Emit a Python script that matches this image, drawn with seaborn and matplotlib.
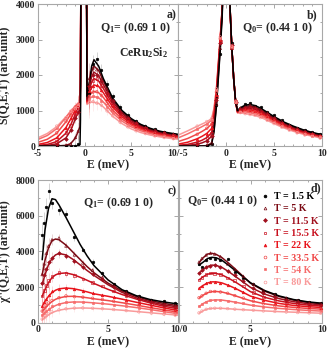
import matplotlib
matplotlib.use("Agg")
import matplotlib.pyplot as plt
from matplotlib.lines import Line2D
from matplotlib.ticker import MultipleLocator
import pandas as pd
import seaborn as sns

temps = ['T = 1.5 K', 'T = 5 K', 'T = 11.5 K', 'T = 15.5 K',
         'T = 22 K', 'T = 33.5 K', 'T = 54 K', 'T = 80 K']

# ---- panel a : S(Q1,E,T) ----
a_fit_E = [-5, -4, -3, -2, -1.5, -1, -0.75, -0.5, -0.45, -0.4, 0.2, 0.25, 0.5, 0.75,
           1.0, 1.5, 2.0, 3.0, 4.0, 5.0, 6.0, 7.0, 8.0, 9.0, 10.0]
a_fit = [
    [0, 0, 0, 0, 0, 0, 7, 37, 740, 5000, 5000, 1400, 1800, 2250, 2430, 2250, 1900, 1350, 1000, 770, 610, 500, 420, 370, 330],
    [0, 0, 1, 18, 66, 221, 378, 548, 1250, 5000, 5000, 1350, 1750, 2100, 2250, 2130, 1830, 1300, 960, 740, 590, 480, 405, 355, 315],
    [5, 16, 60, 230, 436, 759, 938, 997, 1700, 5000, 5000, 1300, 1650, 1950, 2080, 1980, 1730, 1240, 920, 710, 565, 460, 390, 340, 300],
    [16, 44, 124, 363, 595, 899, 1055, 1087, 1790, 5000, 5000, 1280, 1580, 1800, 1900, 1830, 1620, 1170, 870, 670, 535, 440, 370, 320, 285],
    [45, 99, 227, 522, 761, 1015, 1131, 1152, 1850, 5000, 5000, 1250, 1500, 1650, 1720, 1680, 1500, 1100, 820, 630, 505, 415, 350, 300, 265],
    [104, 190, 358, 685, 893, 1089, 1172, 1194, 1900, 5000, 5000, 1230, 1420, 1500, 1540, 1500, 1370, 1010, 760, 590, 470, 385, 325, 280, 245],
    [184, 296, 488, 807, 986, 1122, 1174, 1194, 1900, 5000, 5000, 1200, 1330, 1380, 1390, 1360, 1240, 930, 700, 540, 430, 350, 295, 255, 220],
    [232, 353, 543, 823, 965, 1064, 1112, 1135, 1840, 5000, 5000, 1170, 1220, 1240, 1230, 1200, 1100, 840, 630, 480, 380, 310, 260, 220, 190],
]
a_pts_E = [-3.0, -2.0, -1.5, -1.0, -0.7, 0.5, 0.9, 1.3, 1.8, 2.4, 3.0, 3.8, 4.6, 5.5, 6.5, 7.5, 8.5, 9.5]
a_pts = [
    [0, 0, 0, 5, 60, 1500, 2300, 2450, 2150, 1750, 1400, 1100, 880, 700, 560, 470, 400, 350],
    [0, 25, 60, 240, 420, 1900, 2200, 2150, 1900, 1600, 1280, 1000, 820, 650, 530, 440, 380, 330],
    [70, 210, 450, 780, 950, 1700, 2000, 2000, 1820, 1500, 1260, 950, 780, 640, 510, 420, 360, 320],
    [130, 380, 580, 920, 1080, 1650, 1850, 1900, 1700, 1450, 1150, 900, 740, 600, 490, 400, 345, 300],
    [240, 500, 780, 1000, 1150, 1550, 1700, 1720, 1580, 1330, 1120, 850, 700, 560, 460, 380, 320, 280],
    [370, 700, 870, 1100, 1180, 1400, 1520, 1530, 1420, 1200, 1000, 800, 650, 520, 420, 355, 300, 260],
    [500, 790, 1000, 1110, 1190, 1320, 1400, 1370, 1280, 1100, 940, 740, 600, 480, 390, 320, 275, 235],
    [560, 800, 980, 1050, 1120, 1230, 1250, 1210, 1150, 990, 850, 670, 540, 430, 350, 285, 240, 205],
]
a_err = [60, 60, 80, 120, 250, 450, 250, 200, 150, 120, 100, 80, 70, 60, 50, 50, 50, 50]

# ---- panel b : S(Q0,E,T) ----
b_fit_E = [-5, -4, -3, -2.5, -2, -1.5, -1.25, -1.0, -0.8, -0.6, -0.4, -0.25, 0.3, 0.45, 0.6,
           0.8, 1.0, 1.2, 1.5, 2.0, 2.5, 3.0, 3.5, 4, 5, 6, 7, 8, 9, 10]
b_fit = [
    [0, 0, 0, 0, 0, 50, 400, 1100, 1900, 2700, 3615, 5000, 5000, 3700, 2800, 1900, 1250, 1000, 1080, 1150, 1170, 1140, 1080, 1000, 830, 680, 560, 460, 380, 320],
    [0, 0, 1, 3, 11, 82, 449, 1159, 1978, 2800, 3718, 5000, 5000, 3700, 2800, 1900, 1250, 990, 1060, 1120, 1130, 1100, 1040, 970, 800, 660, 540, 445, 370, 310],
    [5, 17, 52, 88, 145, 274, 649, 1319, 2123, 2918, 3800, 5000, 5000, 3700, 2800, 1900, 1250, 980, 1040, 1090, 1095, 1065, 1010, 940, 780, 640, 525, 430, 360, 300],
    [18, 46, 109, 162, 236, 375, 741, 1384, 2175, 2955, 3822, 5000, 5000, 3700, 2800, 1900, 1250, 970, 1020, 1055, 1055, 1030, 980, 910, 755, 620, 505, 415, 345, 290],
    [52, 106, 204, 272, 355, 494, 845, 1454, 2228, 2992, 3843, 5000, 5000, 3700, 2800, 1900, 1250, 960, 1000, 1020, 1015, 990, 945, 880, 730, 595, 485, 400, 330, 275],
    [124, 211, 336, 410, 493, 615, 945, 1524, 2279, 3025, 3862, 5000, 5000, 3700, 2800, 1900, 1250, 950, 980, 985, 975, 950, 905, 845, 700, 570, 465, 380, 315, 260],
    [227, 341, 475, 546, 618, 724, 1026, 1584, 2321, 3052, 3875, 5000, 5000, 3700, 2800, 1900, 1250, 940, 960, 950, 935, 905, 860, 805, 665, 540, 440, 360, 295, 240],
    [305, 426, 556, 619, 681, 774, 1067, 1620, 2345, 3067, 3883, 5000, 5000, 3700, 2800, 1900, 1250, 930, 935, 910, 890, 860, 815, 760, 630, 510, 415, 335, 275, 220],
]
b_pts_E = [-3.0, -2.0, -1.5, -1.0, -0.6, 0.6, 1.0, 1.5, 2.0, 2.5, 3.0, 3.6, 4.3, 5.0, 5.8, 6.6, 7.4, 8.2, 9.0, 9.8]
b_pts = [
    [0, 10, 60, 1150, 2600, 2900, 1200, 1050, 1180, 1200, 1130, 1100, 960, 860, 720, 600, 520, 440, 390, 330],
    [0, 20, 90, 1180, 2750, 2750, 1280, 1070, 1100, 1150, 1090, 1020, 930, 780, 690, 580, 490, 420, 360, 300],
    [60, 150, 280, 1300, 2900, 2850, 1230, 1030, 1080, 1110, 1070, 990, 900, 790, 660, 560, 470, 400, 350, 295],
    [100, 240, 360, 1400, 2950, 2780, 1260, 1010, 1060, 1050, 1040, 960, 870, 760, 640, 540, 450, 385, 335, 285],
    [210, 350, 500, 1430, 3000, 2820, 1240, 990, 1030, 1000, 980, 930, 840, 740, 620, 520, 440, 370, 320, 270],
    [330, 500, 610, 1520, 3020, 2800, 1260, 970, 980, 980, 960, 890, 810, 700, 590, 500, 420, 355, 305, 255],
    [480, 610, 720, 1580, 3050, 2790, 1250, 960, 950, 940, 900, 850, 760, 670, 560, 470, 395, 335, 290, 240],
    [560, 690, 770, 1610, 3070, 2810, 1240, 940, 910, 885, 865, 800, 720, 630, 530, 445, 370, 310, 270, 220],
]

# ---- panel c : chi''(Q1,E,T) ----
c_fit_E = [0.3, 0.5, 0.75, 1.0, 1.25, 1.5, 2, 2.5, 3, 3.5, 4, 5, 6, 7, 8, 9, 10]
c_fit = [
    [3530, 5200, 6400, 6950, 6900, 6600, 5900, 5150, 4400, 3750, 3200, 2400, 1850, 1520, 1300, 1160, 1050],
    [2690, 3500, 4200, 4600, 4690, 4650, 4350, 3950, 3550, 3150, 2800, 2220, 1780, 1480, 1240, 1080, 950],
    [2130, 2700, 3250, 3600, 3800, 3880, 3800, 3550, 3250, 2930, 2650, 2130, 1700, 1400, 1170, 1000, 880],
    [1480, 1850, 2250, 2530, 2680, 2760, 2790, 2700, 2550, 2380, 2200, 1870, 1580, 1330, 1110, 920, 780],
    [920, 1200, 1480, 1690, 1820, 1900, 1945, 1910, 1830, 1730, 1620, 1480, 1320, 1150, 990, 830, 680],
    [640, 820, 1020, 1190, 1310, 1390, 1470, 1480, 1450, 1400, 1340, 1240, 1120, 990, 850, 720, 590],
    [415, 560, 720, 860, 960, 1040, 1130, 1160, 1160, 1140, 1110, 1040, 950, 850, 740, 620, 500],
    [170, 300, 440, 560, 640, 700, 770, 810, 825, 820, 805, 760, 700, 630, 560, 490, 420],
]
c_pts_E = [0.3, 0.45, 0.6, 0.75, 1.0, 1.5, 2.0, 2.6, 3.2, 3.9, 4.6, 5.4, 6.3, 7.2, 8.1, 9.0, 9.8]
c_pts = [
    [4930, 5600, 6500, 7400, 6700, 6300, 6100, 4800, 4100, 3400, 2800, 2150, 1750, 1500, 1300, 1200, 1100],
    [2700, 3300, 3900, 4300, 4650, 4750, 4300, 3800, 3350, 2950, 2550, 2050, 1700, 1420, 1200, 1060, 960],
    [2200, 2650, 3000, 3400, 3650, 3900, 3750, 3450, 3100, 2750, 2450, 2000, 1620, 1350, 1150, 1000, 890],
    [1500, 1800, 2100, 2350, 2600, 2800, 2750, 2650, 2450, 2250, 2050, 1780, 1500, 1250, 1050, 890, 790],
    [950, 1150, 1350, 1550, 1750, 1900, 1950, 1880, 1800, 1680, 1570, 1430, 1280, 1100, 930, 790, 690],
    [650, 800, 950, 1100, 1250, 1400, 1500, 1460, 1430, 1370, 1300, 1200, 1090, 960, 820, 700, 600],
    [430, 540, 650, 780, 930, 1050, 1150, 1170, 1150, 1120, 1080, 1010, 920, 820, 710, 600, 510],
    [200, 280, 380, 480, 600, 720, 780, 820, 830, 810, 790, 740, 680, 610, 540, 470, 420],
]
c_err = [700, 600, 500, 450, 300, 250, 200, 200, 150, 150, 120, 100, 100, 100, 90, 90, 90]

# ---- panel d : chi''(Q0,E,T) ----
d_fit_E = [1.4, 1.7, 2.0, 2.3, 2.6, 3.0, 3.5, 4, 5, 6, 7, 8, 9, 10]
d_fit = [
    [3230, 3400, 3600, 3665, 3640, 3500, 3200, 2880, 2240, 1800, 1500, 1300, 1170, 1090],
    [3360, 3650, 3850, 3890, 3830, 3650, 3320, 2960, 2210, 1760, 1470, 1270, 1140, 1060],
    [2770, 2980, 3150, 3230, 3210, 3100, 2850, 2560, 1980, 1600, 1350, 1180, 1070, 1000],
    [2400, 2580, 2720, 2770, 2760, 2680, 2480, 2250, 1740, 1420, 1220, 1080, 990, 930],
    [1930, 2100, 2230, 2290, 2290, 2230, 2080, 1900, 1490, 1250, 1080, 970, 900, 850],
    [1370, 1550, 1680, 1740, 1750, 1720, 1620, 1490, 1230, 1060, 940, 860, 800, 760],
    [900, 1080, 1200, 1260, 1280, 1270, 1210, 1140, 985, 880, 800, 740, 690, 650],
    [530, 680, 770, 800, 810, 805, 780, 750, 705, 660, 620, 590, 560, 530],
]
d_pts_E = [1.4, 1.6, 1.9, 2.2, 2.5, 2.9, 3.4, 3.9, 4.5, 5.2, 5.9, 6.7, 7.5, 8.3, 9.1, 9.9]
d_pts = [
    [3300, 3150, 3500, 3650, 3550, 3500, 3550, 2850, 2500, 2150, 1800, 1600, 1400, 1250, 1150, 1090],
    [3400, 3600, 3800, 3900, 3850, 3700, 3300, 3000, 2600, 2150, 1800, 1550, 1380, 1230, 1120, 1060],
    [2800, 2950, 3100, 3200, 3250, 3100, 2900, 2650, 2350, 1950, 1650, 1420, 1270, 1150, 1050, 1000],
    [2400, 2550, 2700, 2780, 2750, 2700, 2500, 2350, 2050, 1700, 1450, 1300, 1150, 1050, 980, 930],
    [1950, 2050, 2200, 2300, 2300, 2250, 2100, 1950, 1700, 1450, 1250, 1100, 1000, 930, 880, 850],
    [1400, 1500, 1650, 1750, 1750, 1720, 1650, 1520, 1380, 1200, 1050, 950, 880, 820, 780, 760],
    [920, 1050, 1180, 1250, 1290, 1280, 1220, 1160, 1080, 970, 900, 820, 760, 710, 670, 650],
    [550, 650, 750, 800, 810, 810, 790, 760, 730, 700, 660, 630, 600, 570, 550, 530],
]

# styles
colors = ['#000000', '#7a0a14', '#a0101e', '#c8101e', '#e8141c', '#f04848', '#f66c6c', '#f99a9a']
markers = ['o', '^', 'D', 's', '^', 'o', 's', 'o']
filled = [True, False, True, False, True, False, True, False]
palette = dict(zip(temps, colors))

sns.set_style('ticks')
plt.rcParams['font.family'] = ['Liberation Serif', 'DejaVu Serif']
plt.rcParams['font.weight'] = 'bold'
plt.rcParams['mathtext.fontset'] = 'custom'
plt.rcParams['mathtext.rm'] = 'Liberation Serif:bold'
plt.rcParams['mathtext.it'] = 'Liberation Serif:bold'
plt.rcParams['mathtext.bf'] = 'Liberation Serif:bold'


def long_df(E, rows):
    recs = [(e, v, t) for t, row in zip(temps, rows) for e, v in zip(E, row)]
    return pd.DataFrame(recs, columns=['E', 'S', 'T'])


def draw(ax, fit_E, fit, pts_E, pts, err=None):
    df = long_df(fit_E, fit)
    sns.lineplot(data=df, x='E', y='S', hue='T', hue_order=temps[::-1], palette=palette,
                 estimator=None, sort=False, lw=1.1, legend=False, ax=ax)
    for i, t in enumerate(temps):
        if err is not None:
            ax.errorbar(pts_E, pts[i], yerr=err, fmt='none', ecolor=colors[i],
                        elinewidth=0.4, alpha=0.3, zorder=2)
        sns.scatterplot(x=pts_E, y=pts[i], ax=ax, marker=markers[i], s=3.5,
                        facecolor=colors[i] if filled[i] else 'none',
                        edgecolor=colors[i], linewidth=0.45, legend=False, zorder=3)


def style(ax, xlim, ylim, xticks, xlabels, yticks, ylabels, xminor, yminor):
    ax.set_xlim(*xlim)
    ax.set_ylim(*ylim)
    ax.set_xticks(xticks)
    ax.set_xticklabels(xlabels)
    ax.set_yticks(yticks)
    ax.set_yticklabels(ylabels)
    ax.xaxis.set_minor_locator(MultipleLocator(xminor))
    ax.yaxis.set_minor_locator(MultipleLocator(yminor))
    ax.tick_params(which='both', direction='in', top=True, right=True, color='#9a9a9a',
                   labelsize=7, pad=2, width=0.6)
    ax.tick_params(which='major', length=3)
    ax.tick_params(which='minor', length=1.5)
    for sp in ax.spines.values():
        sp.set_color('#a8a8a8')
        sp.set_linewidth(0.8)
    ax.set_xlabel('E (meV)', fontsize=8.5, fontweight='bold', labelpad=1)
    ax.set_ylabel('')


fig = plt.figure(figsize=(3.27, 3.49), dpi=100)
ax_a = fig.add_axes([38 / 327, 1 - 146 / 349, 140 / 327, 142 / 349])
ax_b = fig.add_axes([178 / 327, 1 - 146 / 349, 144 / 327, 142 / 349])
ax_c = fig.add_axes([38 / 327, 1 - 322.7 / 349, 140 / 327, 142.7 / 349])
ax_d = fig.add_axes([179 / 327, 1 - 322.7 / 349, 143 / 327, 142.7 / 349])

draw(ax_a, a_fit_E, a_fit, a_pts_E, a_pts, a_err)
draw(ax_b, b_fit_E, b_fit, b_pts_E, b_pts)
draw(ax_c, c_fit_E, c_fit, c_pts_E, c_pts, c_err)
draw(ax_d, d_fit_E, d_fit, d_pts_E, d_pts)

style(ax_a, (-5, 10), (0, 4000), [-5, 0, 5, 10], ['-5', '0', '5', ''],
      [0, 1000, 2000, 3000, 4000], ['0', '1000', '2000', '3000', '4000'], 1, 500)
style(ax_b, (-5, 10), (0, 4000), [-5, 0, 5, 10], ['10/-5', '0', '5', '10'],
      [0, 1000, 2000, 3000, 4000], [''] * 5, 1, 500)
style(ax_c, (0, 10), (0, 8000), [0, 5, 10], ['0', '5', ''],
      [0, 2000, 4000, 6000, 8000], ['0', '2000', '4000', '6000', '8000'], 1, 1000)
style(ax_d, (0, 10), (0, 8000), [0, 5, 10], ['10/0', '5', '10'],
      [0, 2000, 4000, 6000, 8000], [''] * 5, 1, 1000)

ax_a.set_ylabel('S(Q,E,T) (arb.unit)', fontsize=8.5, fontweight='bold')
ax_a.yaxis.set_label_coords(-0.195, 0.5)
ax_c.set_ylabel("\u03c7''(Q,E,T) (arb.unit)", fontsize=8.5, fontweight='bold')
ax_c.yaxis.set_label_coords(-0.195, 0.5)

txt = dict(fontsize=8.5, fontweight='bold')
ax_a.text(0.99, 0.92, 'a)', transform=ax_a.transAxes, ha='right', va='center', **txt)
ax_a.text(0.443, 0.83, 'Q$_1$= (0.69 1 0)', transform=ax_a.transAxes, ha='left', va='center', **txt)
ax_a.text(0.58, 0.655, 'CeRu$_2$Si$_2$', transform=ax_a.transAxes, ha='left', va='center', **txt)
ax_b.text(0.97, 0.92, 'b)', transform=ax_b.transAxes, ha='right', va='center', **txt)
ax_b.text(0.444, 0.83, 'Q$_0$= (0.44 1 0)', transform=ax_b.transAxes, ha='left', va='center', **txt)
ax_c.text(0.99, 0.92, 'c)', transform=ax_c.transAxes, ha='right', va='center', **txt)
ax_c.text(0.32, 0.84, 'Q$_1$= (0.69 1 0)', transform=ax_c.transAxes, ha='left', va='center', **txt)
ax_d.text(0.995, 0.94, 'd)', transform=ax_d.transAxes, ha='right', va='center', **txt)
ax_d.text(0.056, 0.85, 'Q$_0$= (0.44 1 0)', transform=ax_d.transAxes, ha='left', va='center', **txt)

handles = [Line2D([], [], ls='none', marker=m, ms=2.0, mec=c, mfc=c if f else 'none', mew=0.5)
           for m, c, f in zip(markers, colors, filled)]
ax_d.legend(handles, temps, loc='upper left', bbox_to_anchor=(0.57, 0.915), frameon=False,
            labelcolor=colors, handlelength=0.8, handletextpad=0.5,
            labelspacing=0.33, borderpad=0, borderaxespad=0, prop={'weight': 'bold', 'size': 7.2})

fig.savefig('out.png', dpi=100)
